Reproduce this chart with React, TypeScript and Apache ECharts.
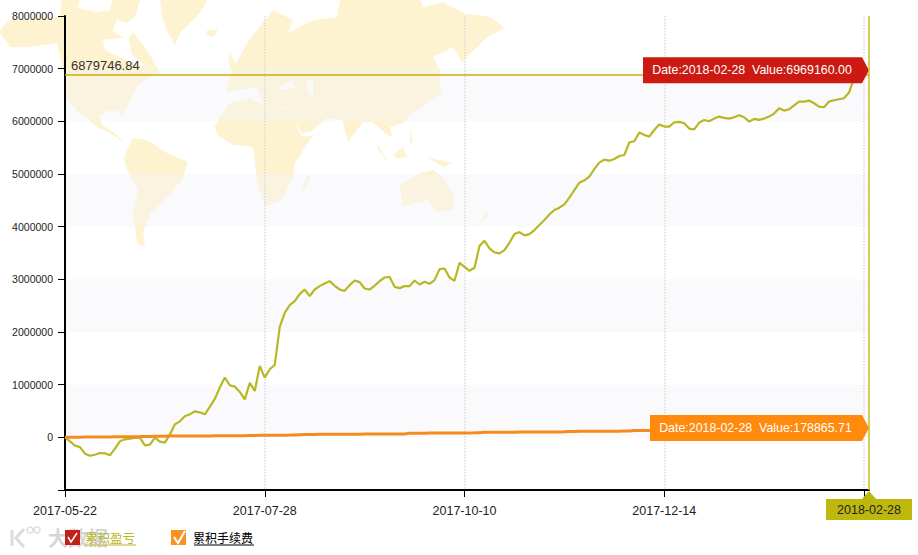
import React, { useEffect, useRef } from "react";
import * as echarts from "echarts";

const dates = [
"2017-05-22","2017-05-23","2017-05-24","2017-05-25","2017-05-26","2017-05-31",
"2017-06-01","2017-06-02","2017-06-05","2017-06-06","2017-06-07","2017-06-08","2017-06-09",
"2017-06-12","2017-06-13","2017-06-14","2017-06-15","2017-06-16","2017-06-19","2017-06-20","2017-06-21","2017-06-22","2017-06-23",
"2017-06-26","2017-06-27","2017-06-28","2017-06-29","2017-06-30",
"2017-07-03","2017-07-05","2017-07-07","2017-07-10","2017-07-12","2017-07-14","2017-07-17","2017-07-19","2017-07-21","2017-07-24","2017-07-26","2017-07-27","2017-07-28",
"2017-07-31","2017-08-01","2017-08-02","2017-08-03","2017-08-04","2017-08-07","2017-08-08","2017-08-09","2017-08-10","2017-08-11",
"2017-08-14","2017-08-15","2017-08-16","2017-08-17","2017-08-18","2017-08-21","2017-08-22","2017-08-23","2017-08-24","2017-08-25",
"2017-08-28","2017-08-29","2017-08-30","2017-08-31","2017-09-04","2017-09-05","2017-09-06","2017-09-07",
"2017-09-11","2017-09-12","2017-09-13","2017-09-14","2017-09-18","2017-09-19","2017-09-20","2017-09-21","2017-09-25","2017-09-26","2017-09-29","2017-10-10",
"2017-10-11","2017-10-12","2017-10-13","2017-10-16","2017-10-17","2017-10-18","2017-10-19","2017-10-20","2017-10-23","2017-10-24","2017-10-25","2017-10-26","2017-10-27",
"2017-10-30","2017-10-31","2017-11-01","2017-11-02","2017-11-03","2017-11-06","2017-11-07","2017-11-08","2017-11-09","2017-11-10",
"2017-11-13","2017-11-14","2017-11-15","2017-11-16","2017-11-20","2017-11-21","2017-11-22","2017-11-23","2017-11-27","2017-11-28","2017-11-29","2017-11-30",
"2017-12-04","2017-12-05","2017-12-07","2017-12-11","2017-12-14",
"2017-12-15","2017-12-18","2017-12-19","2017-12-20","2017-12-21","2017-12-22","2017-12-25","2017-12-26","2017-12-27","2017-12-28",
"2018-01-02","2018-01-03","2018-01-04","2018-01-05","2018-01-08","2018-01-09","2018-01-10","2018-01-11",
"2018-01-15","2018-01-16","2018-01-17","2018-01-18","2018-01-22","2018-01-23","2018-01-24","2018-01-25",
"2018-01-29","2018-01-30","2018-01-31","2018-02-01","2018-02-05","2018-02-06","2018-02-07","2018-02-08",
"2018-02-12","2018-02-13","2018-02-14","2018-02-22","2018-02-23","2018-02-27","2018-02-28",
];

const profit = [
0,-76000,-158000,-185000,-310000,-349000,-330000,-298000,-304000,-342000,
-215000,-76000,-38000,-25000,-13000,-6000,-152000,-139000,-6000,-82000,
-100000,51000,247000,304000,399000,437000,494000,475000,437000,577000,
729000,944000,1134000,989000,963000,862000,722000,1033000,881000,1356000,
1134000,1293000,1375000,2098000,2364000,2509000,2585000,2719000,2807000,2681000,
2807000,2871000,2921000,2966000,2877000,2807000,2782000,2890000,2978000,2947000,
2826000,2807000,2877000,2966000,3035000,3048000,2858000,2833000,2871000,2871000,
2978000,2902000,2953000,2915000,2985000,3194000,3206000,3035000,2972000,3314000,
3238000,3162000,3219000,3631000,3732000,3587000,3511000,3492000,3555000,3694000,
3859000,3897000,3834000,3859000,3935000,4030000,4125000,4233000,4316000,4360000,
4423000,4550000,4696000,4835000,4880000,4949000,5095000,5215000,5272000,5253000,
5285000,5342000,5361000,5602000,5621000,5786000,5741000,5710000,5836000,5938000,
5900000,5900000,5982000,5989000,5963000,5862000,5849000,5976000,6026000,6001000,
6052000,6090000,6065000,6052000,6077000,6115000,6077000,5995000,6046000,6027000,
6052000,6090000,6147000,6248000,6204000,6229000,6305000,6375000,6375000,6394000,
6343000,6280000,6267000,6375000,6400000,6419000,6438000,6546000,6819000,6890000,
6930000,6969160.0,
];

const fees = [
0,1000,2000,3000,4000,5000,6000,7000,7500,8000,
9000,10000,11000,12000,13000,14000,16000,18000,20000,21000,
22000,23000,24000,24500,25000,25500,26000,26500,27000,27500,
28000,28500,29000,29500,30000,30500,31000,34000,36000,38000,
39000,40000,40500,41000,41500,42000,43000,50000,55000,55500,
56000,56500,57000,57500,58000,58500,59000,59500,60000,60500,
61000,61500,62000,62500,63000,63500,64000,64500,65000,78000,
78500,79000,79500,80000,80500,81000,81500,82000,82500,83000,
84000,84500,85000,86000,95000,96000,96500,97000,97500,98000,
98500,99000,99500,100000,100500,101000,101500,102000,103000,103500,
104000,112000,113000,113500,114000,114500,115000,115500,116000,116500,
117000,117500,118000,118500,128000,128500,129000,130000,131000,132000,
133000,134000,135000,136000,137000,138000,139000,140000,141000,142000,
143000,144000,145000,146000,147000,148000,149000,150000,151000,152000,
153000,154000,155000,156000,157000,158000,159000,160000,161500,163000,
164500,166000,167500,169000,170500,172000,173500,175000,176000,177000,
178000,178865.71,
];

const yTicks = { min: -1000000, max: 8000000, step: 1000000 };
const markValue = 6879746.84;
const seriesNames = ["累积盈亏", "累积手续费"];

const land: number[][][] = [
  // North America
  [[2,27],[10,20],[33,18],[60,17],[62,0],[80,0],[77,8],[97,12],[110,10],[112,0],[140,0],[135,17],[127,23],[117,20],[113,30],[115,33],[128,40],[133,32],[147,50],[160,73],[147,78],[137,87],[127,107],[122,115],[107,110],[100,117],[102,125],[113,132],[125,143],[120,140],[110,133],[97,127],[80,113],[67,100],[65,77],[57,43],[30,47],[10,47],[0,33]],
  // Greenland, Iceland
  [[160,0],[207,0],[200,13],[180,33],[175,45],[168,33],[163,20]],
  [[207,30],[218,30],[213,37],[207,35]],
  // South America
  [[133,138],[147,140],[167,153],[188,162],[182,180],[167,197],[150,213],[143,233],[145,247],[137,243],[133,213],[138,190],[127,170],[124,157]],
  // Africa, Madagascar
  [[215,125],[230,103],[250,98],[267,107],[287,108],[302,137],[313,135],[295,163],[293,177],[282,200],[265,207],[257,180],[253,147],[233,145],[217,135]],
  [[302,190],[308,174],[310,178],[303,192]],
  // Great Britain
  [[230,53],[237,67],[232,72],[228,62]],
  // Eurasia
  [[226,92],[230,75],[247,43],[273,10],[293,20],[288,33],[313,20],[337,17],[340,0],[420,0],[423,7],[443,2],[463,13],[490,17],[505,28],[487,37],[467,57],[462,63],[453,47],[433,57],[440,70],[440,93],[423,107],[413,113],[403,123],[390,127],[393,138],[385,133],[373,122],[363,122],[348,142],[342,120],[327,118],[310,132],[302,133],[287,112],[288,107],[265,107],[257,87],[240,90]],
  // Japan, Indonesia, New Guinea, Philippines
  [[423,103],[440,83],[442,93],[423,105]],
  [[393,155],[403,147],[407,157],[397,158]],
  [[377,143],[387,160],[388,162],[378,150]],
  [[427,157],[453,163],[443,167]],
  [[410,128],[413,143],[410,143]],
  // Australia, New Zealand
  [[400,185],[420,173],[433,170],[443,177],[455,197],[452,210],[437,212],[427,200],[403,207]],
  [[477,227],[488,210],[487,217]],
];

const water: number[][][] = [
  // Hudson Bay, Gulf of Mexico
  [[103,40],[128,37],[132,55],[147,67],[133,63],[120,57],[105,50]],
  [[100,115],[120,110],[122,120],[113,128],[102,125]],
  // Black Sea, Caspian Sea
  [[278,88],[293,80],[295,88],[283,90]],
  [[307,80],[313,80],[313,97],[308,93]],
];

const watermarkText = "大数据";
const landFill = "#FEF3D0";

const arrowBox = (w: number, h: number) =>
  `path://M0 0H${w - 7}L${w} ${h / 2}L${w - 7} ${h}H0Z`;

export default function App() {
  const ref = useRef<HTMLDivElement>(null);
  useEffect(() => {
    const chart = echarts.init(ref.current!, undefined, { renderer: "svg" });
    const last = dates.length - 1;
    const every40 = (i: number) => i % 40 === 0;
    const graphic: any[] = [
      ...land.map((points) => ({ type: "polygon", z: -1, silent: true, shape: { points }, style: { fill: landFill } })),
      ...water.map((points) => ({ type: "polygon", z: -1, silent: true, shape: { points }, style: { fill: "#fff" } })),
      { type: "polygon", z: 20, silent: true, shape: { points: [[869, 491], [861, 500], [877, 500]] }, style: { fill: "#BFB80C" } },
      { type: "polyline", z: 1, silent: true, shape: { points: [[12, 530], [12, 546]] }, style: { stroke: "#ddd", lineWidth: 3, fill: "none" } },
      { type: "polyline", z: 1, silent: true, shape: { points: [[24, 529], [16, 538], [24, 547]] }, style: { stroke: "#ddd", lineWidth: 3, fill: "none" } },
      { type: "circle", z: 1, silent: true, shape: { cx: 30, cy: 530, r: 3 }, style: { stroke: "#ddd", lineWidth: 1.5, fill: "none" } },
      { type: "circle", z: 1, silent: true, shape: { cx: 37, cy: 530, r: 3 }, style: { stroke: "#ddd", lineWidth: 1.5, fill: "none" } },
      { type: "text", z: 1, silent: true, x: 48, y: 527, style: { text: watermarkText, font: '700 20px "Noto Sans CJK SC"', fill: "rgba(195,195,195,0.7)" } },
      { type: "polyline", z: 20, silent: true, shape: { points: [[68, 537], [71, 542], [77, 533]] }, style: { stroke: "#fff", lineWidth: 1.5, fill: "none" } },
      { type: "polyline", z: 20, silent: true, shape: { points: [[174, 537], [178, 543], [185, 531]] }, style: { stroke: "#fff", lineWidth: 2, fill: "none" } },
      { type: "line", z: 20, silent: true, shape: { x1: 85, y1: 545, x2: 136, y2: 545 }, style: { stroke: "#B8B825", lineWidth: 1 } },
      { type: "line", z: 20, silent: true, shape: { x1: 194, y1: 545, x2: 254, y2: 545 }, style: { stroke: "#000", lineWidth: 1 } },
    ];
    chart.setOption({
      animation: false,
      graphic,
      grid: { left: 65, right: 49, top: 16, bottom: 65, containLabel: false },
      legend: {
        left: 60,
        top: 525,
        itemWidth: 15,
        itemHeight: 15,
        itemGap: 36,
        icon: "rect",
        selectedMode: false,
        data: [
          { name: seriesNames[0], itemStyle: { color: "#C4201A" }, textStyle: { color: "#B8B825", fontSize: 12.5, fontFamily: '"Noto Sans CJK SC"' } },
          { name: seriesNames[1], itemStyle: { color: "#F7931E" }, textStyle: { color: "#000", fontSize: 12, fontFamily: '"Noto Sans CJK SC"', padding: [0, 0, 0, 2] } },
        ],
      },
      xAxis: {
        type: "category",
        boundaryGap: false,
        data: dates,
        axisLine: { onZero: false, lineStyle: { color: "#000", width: 2 } },
        axisTick: { length: 7, interval: every40, lineStyle: { color: "#000", width: 1 } },
        axisLabel: {
          interval: (i: number) => every40(i) && i < 160,
          color: "#222",
          fontSize: 12.5,
          fontFamily: '"Liberation Sans", Arial',
          margin: 14,
          hideOverlap: false,
        },
        splitLine: { show: true, interval: every40, lineStyle: { color: "#dadada", type: "dotted", width: 1.5 } },
        axisPointer: {
          show: true,
          status: "show",
          value: last,
          type: "line",
          triggerTooltip: false,
          lineStyle: { color: "#C9BC20", width: 1.5, type: "solid" },
          label: {
            show: true,
            margin: 9,
            color: "#222",
            fontSize: 12.5,
            fontFamily: '"Liberation Sans", Arial',
            backgroundColor: "#BFB80C",
            padding: [4, 11, 4, 11],
            borderRadius: 0,
            shadowBlur: 0,
          },
          handle: { show: false },
        },
      },
      yAxis: {
        type: "value",
        min: yTicks.min,
        max: yTicks.max,
        interval: yTicks.step,
        axisLine: { show: true, lineStyle: { color: "#000", width: 2 } },
        axisTick: { show: true, length: 7, lineStyle: { color: "#000", width: 1 } },
        axisLabel: {
          color: "#222",
          fontSize: 10.5,
          fontFamily: '"Liberation Sans", Arial',
          margin: 12,
          formatter: (v: number) => (v === yTicks.min ? "" : String(v)),
        },
        splitLine: { show: false },
        splitArea: { show: true, areaStyle: { color: ["rgba(0,0,0,0)", "rgba(243,243,248,0.4)"] } },
      },
      series: [
        {
          name: seriesNames[0],
          type: "line",
          data: profit,
          showSymbol: false,
          symbol: "none",
          itemStyle: { color: "#B8B825" },
          lineStyle: { color: "#B8B825", width: 2.2 },
          markLine: {
            silent: true,
            symbol: "none",
            lineStyle: { color: "#C9B200", width: 1.5, type: "solid" },
            label: {
              position: "insideStartTop",
              color: "#333",
              fontSize: 13,
              fontFamily: '"Liberation Sans", Arial',
              distance: 2,
              padding: [0, 0, 1, 4],
              formatter: () => markValue.toFixed(2),
            },
            data: [{ yAxis: markValue }],
          },
          markPoint: {
            silent: true,
            symbol: arrowBox(226, 26),
            symbolSize: [226, 26],
            symbolOffset: [-113, 0],
            itemStyle: { color: "#CC1A12" },
            label: {
              show: true,
              position: "inside",
              offset: [-4, 0],
              color: "#fff",
              fontSize: 12.4,
              fontFamily: '"Liberation Sans", Arial',
              formatter: () => `Date:${dates[last]}  Value:${profit[last].toFixed(2)}`,
            },
            data: [{ coord: [last, profit[last]] }],
          },
        },
        {
          name: seriesNames[1],
          type: "line",
          data: fees,
          showSymbol: false,
          symbol: "none",
          itemStyle: { color: "#F58A1F" },
          lineStyle: { color: "#F58A1F", width: 3 },
          markPoint: {
            silent: true,
            symbol: arrowBox(219, 26),
            symbolSize: [219, 26],
            symbolOffset: [-109.5, 0],
            itemStyle: { color: "#FF8A0D" },
            label: {
              show: true,
              position: "inside",
              offset: [-4, 0],
              color: "#fff",
              fontSize: 12.4,
              fontFamily: '"Liberation Sans", Arial',
              formatter: () => `Date:${dates[last]}  Value:${fees[last].toFixed(2)}`,
            },
            data: [{ coord: [last, fees[last]] }],
          },
        },
      ],
    });
    return () => chart.dispose();
  }, []);
  return <div ref={ref} style={{ position: "fixed", left: 0, top: 0, width: 918, height: 555, background: "#fff" }} />;
}
